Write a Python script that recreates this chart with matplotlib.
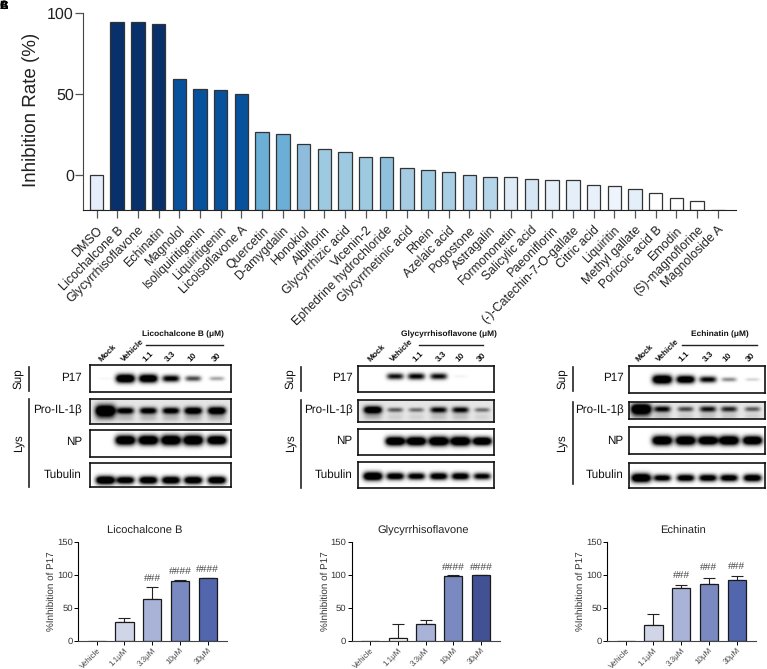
import numpy as np
import matplotlib
matplotlib.use("Agg")
import matplotlib.pyplot as plt

plt.rcParams['font.family'] = ['Liberation Sans', 'DejaVu Sans']
plt.rcParams['text.hinting'] = 'none'
W, H = 767, 669

compounds = ["DMSO", "Licochalcone B", "Glycyrrhisoflavone", "Echinatin", "Magnolol", "Isoliquiritigenin",
             "Liquiritigenin", "Licoisoflavone A", "Quercetin", "D-amygdalin", "Honokiol", "Albiflorin",
             "Glycyrrhizic acid", "Vicenin-2", "Ephedrine hydrochloride", "Glycyrrhetinic acid", "Rhein",
             "Azelaic acid", "Pogostone", "Astragalin", "Formononetin", "Salicylic acid", "Paeoniflorin",
             "(-)-Catechin-7-O-gallate", "Citric acid", "Liquiritin", "Methyl gallate", "Poricoic acid B",
             "Emodin", "(S)-magnoflorine", "Magnoloside A"]
inhibition = [0, 94.1, 94, 93.3, 59.4, 53, 52.4, 50, 26.5, 25.5, 19, 16, 14.4, 11, 11, 4.5, 3.3, 1.6,
              -0.2, -1.2, -1.4, -2.5, -3.3, -3.3, -6, -6.6, -8.8, -10.9, -14.2, -16.2, -21.6]
compound_colors = ["#e6eefb", "#08306b", "#08306b", "#08306b", "#08519c", "#08519c", "#08519c", "#08519c",
                   "#6baed6", "#6baed6", "#8fbcdc", "#9ecae1", "#9ecae1", "#9ecae1", "#8fc1de", "#a6cbe3",
                   "#9ecae1", "#a8cfe6", "#b3d1e8", "#b5d5ea", "#deebf7", "#d6e6f4", "#e4eff9", "#e4eff9",
                   "#e8f1fa", "#edf4fb", "#e4eff9", "#ffffff", "#ffffff", "#ffffff", "#ffffff"]

doses = ["Vehicle", "1.1μM", "3.3μM", "10μM", "30μM"]
lico_vals = [0, 28, 64, 90, 95]
lico_tops = [0, 34, 82, 92, 96]
glyc_vals = [0, 4, 26, 98.5, 99.5]
glyc_tops = [0, 26, 32, 99.5, 100]
echi_vals = [0, 24, 79.5, 86, 93]
echi_tops = [0, 40, 84, 96, 98]
lico_sig = ["", "", "###", "####", "####"]
glyc_sig = ["", "", "", "####", "####"]
echi_sig = ["", "", "###", "###", "###"]
lico_sig_y = [0, 0, 95, 106, 109]
glyc_sig_y = [0, 0, 0, 112, 112]
echi_sig_y = [0, 0, 99, 111, 113.5]
lico_colors = ["white", "#d0d6e8", "#a9b3d8", "#7a89c0", "#5266ae"]
glyc_colors = ["white", "white", "#a9b3d8", "#7a89c0", "#425094"]
echi_colors = ["white", "#d0d6e8", "#a9b3d8", "#7a89c0", "#5266ae"]

lanes_lbl = ["Mock", "Vehicle", "1.1", "3.3", "10", "30"]
lico_p17 = [0.02, 1.0, 0.95, 0.7, 0.45, 0.22]
lico_il = [1.5, 0.7, 0.7, 0.7, 0.8, 0.85]
lico_np = [0, 1.2, 1.2, 1.3, 1.3, 1.1]
lico_tub = [1.0, 0.85, 0.9, 0.9, 0.9, 0.9]
glyc_p17 = [0, 0.6, 0.65, 0.62, 0.03, 0]
glyc_il = [0.85, 0.35, 0.3, 0.6, 0.6, 0.3]
glyc_np = [0, 1.1, 1.1, 1.2, 1.2, 1.0]
glyc_tub = [1.0, 0.8, 0.75, 0.8, 0.8, 0.7]
echi_p17 = [0, 1.1, 0.9, 0.65, 0.28, 0.1]
echi_il = [1.3, 0.6, 0.4, 0.55, 0.5, 0.35]
echi_np = [0, 1.2, 1.2, 1.1, 1.2, 1.1]
echi_tub = [1.1, 0.75, 0.8, 0.8, 0.8, 0.85]

fig = plt.figure(figsize=(W / 100, H / 100), dpi=100)


def px_axes(x0, y0, x1, y1, **kw):
    return fig.add_axes([x0 / W, 1 - y1 / H, (x1 - x0) / W, (y1 - y0) / H], **kw)


# ---- overlay in pixel coordinates
ov = fig.add_axes([0, 0, 1, 1], zorder=5)
ov.set_xlim(0, W)
ov.set_ylim(H, 0)
ov.axis("off")
ov.patch.set_alpha(0)
for letter in "ABC":
    ov.text(3.5, 6, letter, fontsize=8.5, fontweight="bold", ha="center", va="center")

# ---- top bars
y_low = -21.6
ax = px_axes(83, 12.7, 735.7, 210)
ax.set_ylim(y_low, 100)
ax.set_xlim((83 - 96.5) / 20.71, (735.7 - 96.5) / 20.71)
x = np.arange(len(compounds))
ax.bar(x, np.array(inhibition) - y_low, bottom=y_low, width=0.65, color=compound_colors,
       edgecolor="#333333", linewidth=0.9)
for s in ("top", "right"):
    ax.spines[s].set_visible(False)
ax.spines["left"].set_color("#444444")
ax.spines["bottom"].set_color("#222222")
ax.set_yticks([0, 50, 100])
ax.tick_params(axis="y", labelsize=11.5, length=5.5, width=0.9, color="#555555", pad=1, labelcolor="#222222")
ax.tick_params(axis="x", length=5.5, width=0.9, color="#555555", pad=4.5)
ax.set_xticks(x)
ax.set_xticklabels(compounds, rotation=45, ha="right", rotation_mode="anchor", fontsize=9, color="#222222")
ov.text(31, 110, "Inhibition Rate (%)", fontsize=13.5, rotation=90, ha="center", va="center", color="#222222")


# ---- western blots
def blot(box, lanes, vals, yfrac, smear=0.0, lane_w=9.3):
    x0, y0, x1, y1 = box
    a = px_axes(x0, y0, x1, y1)
    nx, ny = int((x1 - x0) * 3), int((y1 - y0) * 3)
    xs = np.linspace(x0, x1, nx)
    ys = np.linspace(y0, y1, ny)
    X, Y = np.meshgrid(xs, ys)
    cy = y0 + yfrac * (y1 - y0)
    img = np.zeros_like(X)
    for lx, v in zip(lanes, vals):
        if v <= 0:
            continue
        sy = 1.4 + 2.8 * min(v, 1.5)
        sx = lane_w * (0.72 + 0.3 * min(v, 1.2))
        g = np.exp(-(((X - lx) / sx) ** 4) - ((Y - cy) / sy) ** 2)
        img += min(v * 1.6, 1.6) * g
        if smear:
            img += smear * min(v, 0.8) * np.exp(-((X - lx) / sx) ** 4 - ((Y - cy - 7) / 3.5) ** 2)
    bg = 0.1 if smear else 0.0
    grey = 1 - np.clip(img + bg, 0, 1)
    a.imshow(grey, cmap="gray", vmin=0, vmax=1, aspect="auto", extent=(x0, x1, y1, y0), interpolation="bilinear")
    a.set_xticks([])
    a.set_yticks([])
    for s in a.spines.values():
        s.set_linewidth(1.2)
        s.set_color("#111111")


def blot_panel(xb, rows, lanes, series, yfracs, lblx, lbly, supx, barx, sup_bar, lys_bar,
               header, hx, line, lbl_xy):
    names = ["P17", "Pro-IL-1β", "NP", "Tubulin"]
    for i, (r, vals, yf) in enumerate(zip(rows, series, yfracs)):
        blot((xb[0], r[0], xb[1], r[1]), lanes, vals, yf, smear=0.25 if i == 1 else 0.0)
        ov.text(lblx, lbly[i], names[i], ha="right", va="center", fontsize=8.4, color="#111111")
    ov.text(supx, 379, "Sup", rotation=90, ha="center", va="center", fontsize=8.4, color="#111111")
    ov.text(supx, 442.7, "Lys", rotation=90, ha="center", va="center", fontsize=8.4, color="#111111")
    ov.plot([barx, barx], sup_bar, color="#222222", lw=1.2)
    ov.plot([barx, barx], lys_bar, color="#222222", lw=1.2)
    ov.text(hx, 334.3, header, ha="center", va="center", fontsize=6.0, fontweight="bold", color="#111111")
    ov.plot(line, [345, 345], color="#222222", lw=1.0)
    for t, (lx, ly) in zip(lanes_lbl, lbl_xy):
        ov.text(lx, ly, t, rotation=45, ha="center", va="center", fontsize=6.0, fontweight="bold", color="#111111")


blot_panel((89.7, 230.7), [(365, 392.3), (399, 423.7), (429.7, 457), (463.3, 487.3)],
           [105, 125, 148, 170.7, 193, 216.7], [lico_p17, lico_il, lico_np, lico_tub], [0.52, 0.47, 0.4, 0.72],
           81.7, [378, 410.7, 442, 474.7], 18, 29, [366.7, 391], [399.3, 486.7],
           "Licochalcone B (μM)", 182.7, [145.7, 222.7],
           [(107, 353), (132.7, 350.7), (147.7, 356.7), (170, 356.7), (192.7, 357), (216.7, 357)])
blot_panel((358, 494.3), [(365.7, 392), (400, 422), (429, 455), (462.3, 488)],
           [372.7, 395, 416, 438.3, 460, 481.7], [glyc_p17, glyc_il, glyc_np, glyc_tub], [0.42, 0.45, 0.47, 0.55],
           352.3, [378, 410.7, 441, 474.7], 290, 300.7, [367.3, 391], [400, 487.7],
           "Glycyrrhisoflavone (μM)", 448.7, [419.3, 483.3],
           [(376.7, 353), (402, 350.7), (418.3, 356.7), (441, 356.7), (460.7, 357), (481.7, 357)])
blot_panel((628.7, 765), [(365.7, 392.7), (401.7, 419), (427, 454), (462.7, 487.7)],
           [640.7, 661.7, 685, 707.3, 728.3, 751.7], [echi_p17, echi_il, echi_np, echi_tub], [0.5, 0.45, 0.5, 0.6],
           623.3, [378, 410.7, 441, 474.7], 561.7, 573, [366.7, 391], [401.7, 484.3],
           "Echinatin (μM)", 720, [682.3, 757.3],
           [(644, 353), (667.3, 350.7), (684, 356.7), (708.3, 356.7), (727.3, 357), (751, 357)])


# ---- quantification bars
def quant(axis_x, first_tick, end_x, title, title_x, vals, tops, colors, sig, sig_y):
    step = 27.75
    a = px_axes(axis_x, 542, end_x, 640.7)
    a.set_ylim(0, 150)
    a.set_xlim((axis_x - first_tick) / step, (end_x - first_tick) / step)
    xs = np.arange(len(doses))
    v = np.array(vals, float)
    t = np.array(tops, float)
    for i in range(len(doses)):
        if t[i] > v[i]:
            a.errorbar(xs[i], v[i], yerr=[[0], [t[i] - v[i]]], color="#222222", lw=0.8, capsize=4.2,
                       capthick=0.8, zorder=1)
    a.bar(xs, v, width=0.66, color=colors, edgecolor="#1a1a1a", linewidth=0.9, zorder=2)
    for s in ("top", "right"):
        a.spines[s].set_visible(False)
    a.spines["left"].set_linewidth(0.8)
    a.spines["bottom"].set_linewidth(0.8)
    a.spines["bottom"].set_color("#444444")
    a.set_yticks([0, 50, 100, 150])
    a.tick_params(axis="y", labelsize=6.8, length=3, width=0.7, pad=1, labelcolor="#333333")
    a.tick_params(axis="x", length=3, width=0.7, pad=1.5)
    a.set_xticks(xs)
    a.set_xticklabels(doses, rotation=45, ha="right", rotation_mode="anchor", fontsize=5.8, color="#444444")
    for xi, s, y in zip(xs, sig, sig_y):
        if s:
            a.text(xi, y, s, ha="center", va="center", fontsize=7.4, color="#444444", clip_on=False)
    ov.text(axis_x - 26.6, 591, "%Inhibition of P17", rotation=90, ha="center", va="center",
            fontsize=7.1, color="#333333")
    ov.text(title_x, 531, title, ha="center", va="center", fontsize=8, color="#222222")


quant(78.3, 96.7, 226.7, "Licochalcone B", 145, lico_vals, lico_tops, lico_colors, lico_sig, lico_sig_y)
quant(351.7, 370, 500, "Glycyrrhisoflavone", 423, glyc_vals, glyc_tops, glyc_colors, glyc_sig, glyc_sig_y)
quant(607.3, 625.7, 755.7, "Echinatin", 683.3, echi_vals, echi_tops, echi_colors, echi_sig, echi_sig_y)

fig.savefig("out.png", dpi=100)
